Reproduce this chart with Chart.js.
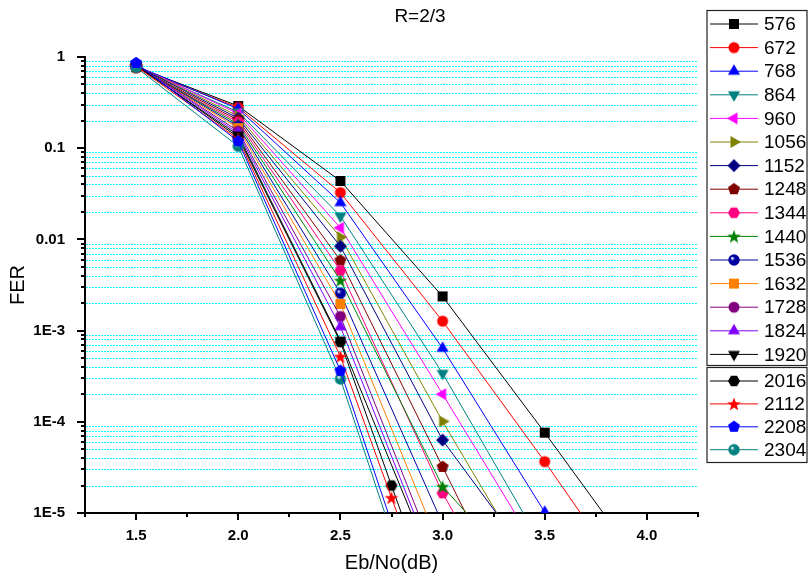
<!DOCTYPE html>
<html>
<head>
<meta charset="utf-8">
<script src="https://cdn.jsdelivr.net/npm/chart.js@4"></script>
<style>
  html, body { margin: 0; padding: 0; background: #fff; }
  #wrap { width: 810px; height: 578px; }
</style>
</head>
<body>
<div id="wrap"><canvas id="chart" width="810" height="578"></canvas></div>
<script>
// Eb/No points (dB), shared by all curves; null = no measurement at that point
const ebno = [1.5, 2.0, 2.5, 2.75, 3.0, 3.25, 3.5, 4.0];

const blockLengths = ['576', '672', '768', '864', '960', '1056', '1152', '1248', '1344', '1440',
  '1536', '1632', '1728', '1824', '1920', '2016', '2112', '2208', '2304'];

// FER (points below 1E-5 are estimated from where the lines leave the plot)
const fer576  = [0.78, 0.29,  0.0437,  null,    0.00237, null,   7.6e-5,  2.2e-6];
const fer672  = [0.76, 0.28,  0.0326,  null,    0.00127, null,   3.66e-5, 9e-7];
const fer768  = [0.80, 0.27,  0.0253,  null,    6.4e-4,  null,   1.02e-5, 2e-7];
const fer864  = [0.78, 0.25,  0.018,   null,    3.4e-4,  null,   3.9e-6,  null];
const fer960  = [0.80, 0.24,  0.0134,  null,    2.01e-4, null,   2.9e-6,  null];
const fer1056 = [0.80, 0.225, 0.0106,  null,    1.01e-4, null,   1.3e-6,  null];
const fer1152 = [0.80, 0.213, 0.0084,  null,    6.3e-5,  null,   1.9e-6,  null];
const fer1248 = [0.78, 0.203, 0.00588, null,    3.2e-5,  2.4e-6, null,    null];
const fer1344 = [0.77, 0.193, 0.00456, null,    1.65e-5, 1.7e-6, null,    null];
const fer1440 = [0.79, 0.183, 0.00355, null,    1.95e-5, 4.7e-6, null,    null];
const fer1536 = [0.80, 0.174, 0.00257, null,    7.6e-6,  null,   null,    null];
const fer1632 = [0.80, 0.166, 0.00196, null,    3.6e-6,  null,   null,    null];
const fer1728 = [0.82, 0.154, 0.00143, null,    2.1e-6,  null,   null,    null];
const fer1824 = [0.82, 0.146, 0.0011,  null,    1.6e-6,  null,   null,    null];
const fer1920 = [0.80, 0.139, 7.8e-4,  null,    1.45e-6, null,   null,    null];
const fer2016 = [0.82, 0.132, 7.5e-4,  2.0e-5,  5.5e-7,  null,   null,    null];
const fer2112 = [0.79, 0.126, 5.2e-4,  1.47e-5, 4.3e-7,  null,   null,    null];
const fer2208 = [0.86, 0.119, 3.63e-4, 7.8e-6,  null,    null,   null,    null];
const fer2304 = [0.77, 0.105, 2.95e-4, 6e-6,    null,    null,   null,    null];

const ferSeries = [fer576, fer672, fer768, fer864, fer960, fer1056, fer1152, fer1248, fer1344, fer1440,
  fer1536, fer1632, fer1728, fer1824, fer1920, fer2016, fer2112, fer2208, fer2304];

const yTickValues = [1, 0.1, 0.01, 1e-3, 1e-4, 1e-5];
const yTickLabels = ['1', '0.1', '0.01', '1E-3', '1E-4', '1E-5'];

// look of each curve
const colors = ['#000000', '#FF0000', '#0000FF', '#008080', '#FF00FF', '#808000', '#000080', '#800000',
  '#FF0080', '#008000', '#0000A0', '#FF8000', '#800080', '#8000FF', '#000000', '#000000', '#FF0000',
  '#0000FF', '#008080'];
const shapes = ['square', 'circle', 'up', 'down', 'left', 'right', 'diamond', 'pentagon', 'hexagon',
  'star', 'sphere', 'square', 'circle', 'up', 'down', 'hexagon', 'star', 'pentagon', 'sphere'];

function makeMarker(shape, color) {
  const c = document.createElement('canvas');
  c.width = 16; c.height = 16;
  const g = c.getContext('2d');
  const cx = 8, cy = 8;
  g.fillStyle = color;
  const poly = (n, r, start) => {
    g.beginPath();
    for (let k = 0; k < n; k++) {
      const a = (start + k * 360 / n) * Math.PI / 180;
      const px = cx + r * Math.cos(a), py = cy + r * Math.sin(a);
      if (k) g.lineTo(px, py); else g.moveTo(px, py);
    }
    g.closePath();
    g.fill();
  };
  switch (shape) {
    case 'square': g.fillRect(cx - 5, cy - 5, 10, 10); break;
    case 'circle': g.beginPath(); g.arc(cx, cy, 5.5, 0, Math.PI * 2); g.fill(); break;
    case 'up': poly(3, 7, -90); break;
    case 'down': poly(3, 7, 90); break;
    case 'left': poly(3, 7, 180); break;
    case 'right': poly(3, 7, 0); break;
    case 'diamond': poly(4, 6.5, 0); break;
    case 'pentagon': poly(5, 6.3, -90); break;
    case 'hexagon': poly(6, 6, 0); break;
    case 'star': {
      g.beginPath();
      for (let k = 0; k < 10; k++) {
        const r = k % 2 ? 2.9 : 7.2;
        const a = (-90 + k * 36) * Math.PI / 180;
        const px = cx + r * Math.cos(a), py = cy + 0.7 + r * Math.sin(a);
        if (k) g.lineTo(px, py); else g.moveTo(px, py);
      }
      g.closePath();
      g.fill();
      break;
    }
    case 'sphere': {
      const grad = g.createRadialGradient(cx - 2, cy - 2, 0.3, cx, cy, 6);
      grad.addColorStop(0, '#ffffff');
      grad.addColorStop(0.35, color);
      grad.addColorStop(1, color);
      g.fillStyle = grad;
      g.beginPath(); g.arc(cx, cy, 5.7, 0, Math.PI * 2); g.fill();
      break;
    }
  }
  return c;
}

const markers = shapes.map((s, i) => makeMarker(s, colors[i]));

const datasets = blockLengths.map((name, i) => ({
  label: name,
  data: ebno.map((x, j) => ({ x: x, y: ferSeries[i][j] })),
  borderColor: colors[i],
  backgroundColor: colors[i],
  borderWidth: 1,
  pointStyle: markers[i],
  pointRadius: 5,
  tension: 0,
  spanGaps: true,
  order: name === '2208' ? -100 : -i
}));

function isDecade(v) {
  const l = Math.log10(v);
  return Math.abs(l - Math.round(l)) < 1e-6;
}

// cyan dotted grid at the minor values, drawn under the curves
const minorGrid = {
  id: 'minorGrid',
  beforeDatasetsDraw(chart) {
    const { ctx, chartArea: area, scales: { y } } = chart;
    ctx.save();
    ctx.strokeStyle = '#00FFFF';
    ctx.lineWidth = 1;
    ctx.setLineDash([2, 1]);
    y.ticks.forEach(t => {
      if (isDecade(t.value)) return;
      const py = Math.round(y.getPixelForValue(t.value)) + 0.5;
      ctx.beginPath(); ctx.moveTo(area.left + 1, py); ctx.lineTo(area.right, py); ctx.stroke();
    });
    ctx.restore();
  }
};

// tick marks on the axes, title and the two legend boxes
const decorations = {
  id: 'decorations',
  afterDraw(chart) {
    const { ctx, chartArea: area, scales: { x, y } } = chart;
    ctx.save();
    ctx.strokeStyle = '#000';
    ctx.lineWidth = 2;
    y.ticks.forEach(t => {
      const py = Math.round(y.getPixelForValue(t.value));
      const len = isDecade(t.value) ? 8 : 4;
      ctx.beginPath(); ctx.moveTo(area.left, py); ctx.lineTo(area.left - len, py); ctx.stroke();
    });
    x.ticks.forEach(t => {
      const px = Math.round(x.getPixelForValue(t.value));
      const len = Math.abs(t.value * 2 - Math.round(t.value * 2)) < 1e-9 ? 7 : 4;
      ctx.beginPath(); ctx.moveTo(px, area.bottom); ctx.lineTo(px, area.bottom + len); ctx.stroke();
    });

    ctx.fillStyle = '#000';
    ctx.font = '19px "Liberation Sans", Arial, sans-serif';
    ctx.textAlign = 'center';
    ctx.textBaseline = 'middle';
    ctx.fillText('R=2/3', 420, 17);

    // legend
    ctx.lineWidth = 1.2;
    ctx.strokeStyle = '#222';
    ctx.strokeRect(707, 10.5, 100, 355);
    ctx.strokeRect(707, 367.5, 100, 95);
    ctx.font = '19px "Liberation Sans", Arial, sans-serif';
    ctx.textAlign = 'left';
    chart.data.datasets.forEach((ds, i) => {
      const cy = i < 15 ? 24 + i * 23.6 : 381 + (i - 15) * 22.9;
      ctx.strokeStyle = ds.borderColor;
      ctx.lineWidth = 1;
      ctx.beginPath(); ctx.moveTo(710, cy); ctx.lineTo(758, cy); ctx.stroke();
      const m = ds.pointStyle;
      ctx.drawImage(m, 734 - m.width / 2, cy - m.height / 2);
      ctx.fillStyle = '#000';
      ctx.fillText(ds.label, 764, cy + 1);
    });
    ctx.restore();
  }
};

Chart.defaults.font.family = '"Liberation Sans", Arial, sans-serif';
Chart.defaults.color = '#000';

new Chart(document.getElementById('chart'), {
  type: 'line',
  data: { datasets: datasets },
  options: {
    responsive: false,
    animation: false,
    layout: { padding: { left: 0, right: 112, top: 57, bottom: 0 } },
    plugins: { legend: { display: false }, title: { display: false }, tooltip: { enabled: false } },
    scales: {
      x: {
        type: 'linear',
        min: 1.25,
        max: 4.25,
        afterFit: s => { s.height = 65; },
        grid: { display: false },
        border: { display: true, color: '#000', width: 2 },
        ticks: {
          stepSize: 0.25,
          autoSkip: false,
          maxRotation: 0,
          padding: 6,
          font: { size: 15, weight: 'bold' },
          callback: v => (Math.abs(v * 2 - Math.round(v * 2)) < 1e-9 ? v.toFixed(1) : '')
        },
        title: { display: true, text: 'Eb/No(dB)', font: { size: 20 }, padding: { bottom: 3 } }
      },
      y: {
        type: 'logarithmic',
        min: 1e-5,
        max: 1,
        afterFit: s => { s.width = 85; },
        afterBuildTicks: s => {
          const t = [];
          for (let e = -5; e <= 0; e++) {
            for (let m = 1; m <= 9; m++) {
              if (e === 0 && m > 1) break;
              t.push({ value: m * Math.pow(10, e), major: m === 1 });
            }
          }
          s.ticks = t;
        },
        grid: { display: false },
        border: { display: true, color: '#000', width: 2 },
        ticks: {
          autoSkip: false,
          padding: 12,
          font: { size: 15, weight: 'bold' },
          callback: v => {
            const k = yTickValues.findIndex(t => Math.abs(Math.log10(t) - Math.log10(v)) < 1e-6);
            return k >= 0 ? yTickLabels[k] : '';
          }
        },
        title: { display: true, text: 'FER', font: { size: 20 }, padding: { top: 6 } }
      }
    }
  },
  plugins: [minorGrid, decorations]
});
</script>
</body>
</html>
